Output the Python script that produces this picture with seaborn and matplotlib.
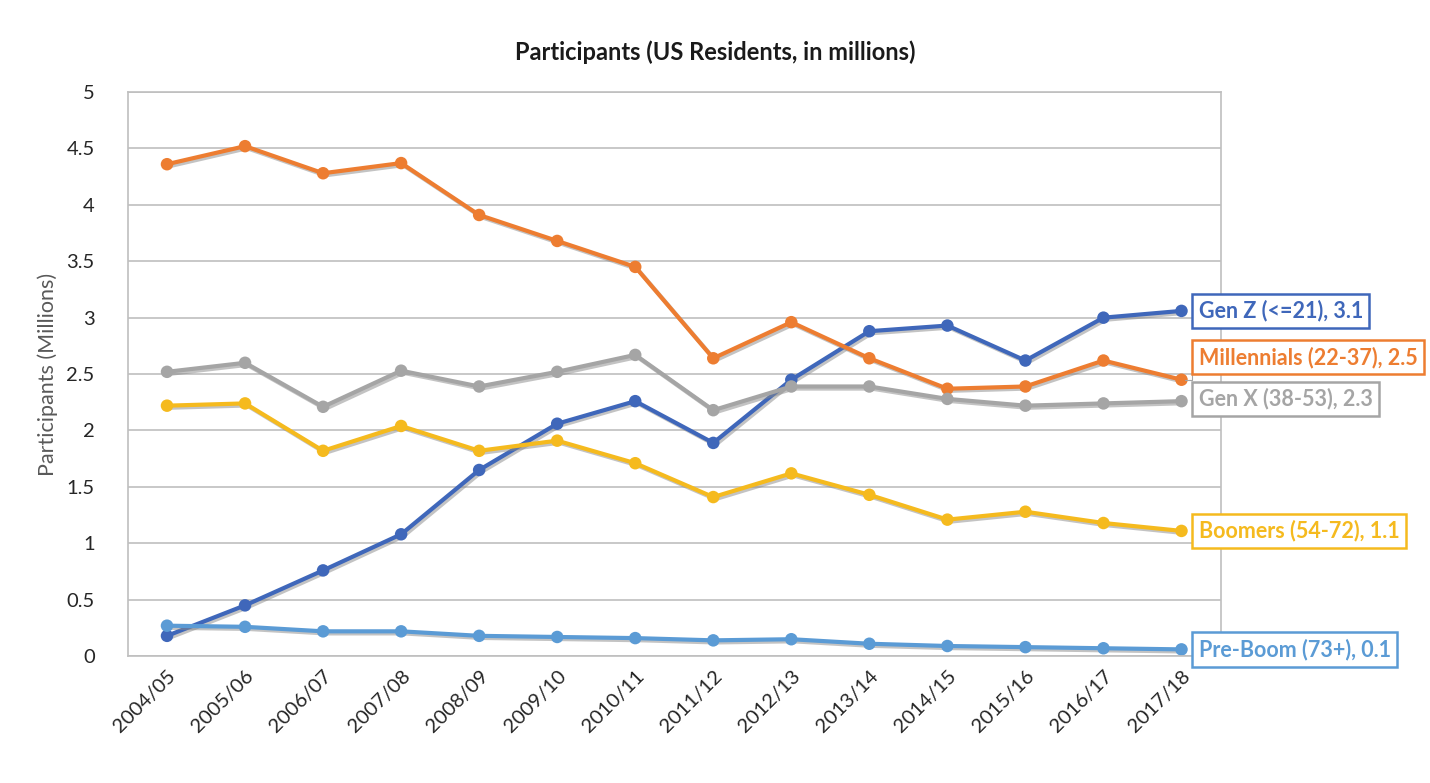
import numpy as np
import pandas as pd
import matplotlib
matplotlib.use("Agg")
import matplotlib.pyplot as plt
import matplotlib.patheffects as pe
import seaborn as sns

seasons = ["2004/05", "2005/06", "2006/07", "2007/08", "2008/09", "2009/10", "2010/11",
           "2011/12", "2012/13", "2013/14", "2014/15", "2015/16", "2016/17", "2017/18"]
gen_z = [0.18, 0.45, 0.76, 1.08, 1.65, 2.06, 2.26, 1.89, 2.45, 2.88, 2.93, 2.62, 3.00, 3.06]
millennials = [4.36, 4.52, 4.28, 4.37, 3.91, 3.68, 3.45, 2.64, 2.96, 2.64, 2.37, 2.39, 2.62, 2.45]
gen_x = [2.52, 2.60, 2.21, 2.53, 2.39, 2.52, 2.67, 2.18, 2.39, 2.39, 2.28, 2.22, 2.24, 2.26]
boomers = [2.22, 2.24, 1.82, 2.04, 1.82, 1.91, 1.71, 1.41, 1.62, 1.43, 1.21, 1.28, 1.18, 1.11]
pre_boom = [0.27, 0.26, 0.22, 0.22, 0.18, 0.17, 0.16, 0.14, 0.15, 0.11, 0.09, 0.08, 0.07, 0.06]

series_names = ["Gen Z (<=21)", "Millennials (22-37)", "Gen X (38-53)", "Boomers (54-72)", "Pre-Boom (73+)"]
series_vals = [gen_z, millennials, gen_x, boomers, pre_boom]
label_texts = ["Gen Z (<=21), 3.1", "Millennials (22-37), 2.5", "Gen X (38-53), 2.3",
               "Boomers (54-72), 1.1", "Pre-Boom (73+), 0.1"]
colors = ["#3F67BA", "#ED7D31", "#A5A5A5", "#F5BA1E", "#5B9BD5"]

rows = []
for name, vals in zip(series_names, series_vals):
    for s, v in zip(seasons, vals):
        rows.append({"Season": s, "Value": v, "Series": name})
df = pd.DataFrame(rows)

sns.set_theme(style="white")
plt.rcParams['font.family'] = ['Lato', 'DejaVu Sans']

fig = plt.figure(figsize=(14.3, 7.83), dpi=100)
ax = fig.add_axes([0.0895, 0.162, 0.764, 0.7205])

palette = dict(zip(series_names, colors))
sns.lineplot(data=df, x="Season", y="Value", hue="Series", palette=palette,
             marker="o", markersize=9, markeredgewidth=0, linewidth=3,
             ax=ax, legend=False, sort=False)

for line in ax.get_lines():
    line.set_path_effects([pe.SimpleLineShadow(offset=(1.5, -1.5), shadow_color="#888888", alpha=0.5),
                           pe.Normal()])

ax.set_xlim(-0.5, len(seasons) - 0.5)
ax.set_ylim(0, 5)
ax.set_yticks(np.arange(0, 5.01, 0.5))
ax.set_yticklabels(["0", "0.5", "1", "1.5", "2", "2.5", "3", "3.5", "4", "4.5", "5"])
ax.yaxis.grid(True, color="#BFBFBF", linewidth=1.2)
ax.set_axisbelow(True)
for sp in ax.spines.values():
    sp.set_color("#BFBFBF")
    sp.set_linewidth(1.2)
ax.tick_params(axis="both", length=0, labelsize=14.5, colors="#262626")
ax.tick_params(axis="y", pad=24)
ax.tick_params(axis="x", pad=8)
ax.set_xticks(range(len(seasons)))
ax.set_xticklabels(seasons, rotation=45, ha="right", rotation_mode="anchor")
ax.set_xlabel("")
ax.set_ylabel("Participants (Millions)", fontsize=15.5, color="#595959", labelpad=6)

fig.suptitle("Participants (US Residents, in millions)", fontsize=17, fontweight="bold",
             color="#1a1a1a", y=0.948)

# end labels
label_y = [3.06, 2.65, 2.28, 1.11, 0.06]
for txt, col, ly, vals in zip(label_texts, colors, label_y, series_vals):
    ax.annotate(txt, xy=(len(seasons) - 1, vals[-1]), xytext=(len(seasons) - 1 + 0.22, ly),
                textcoords="data", annotation_clip=False, va="center", ha="left",
                fontsize=15.5, fontweight="bold", color=col,
                bbox=dict(boxstyle="square,pad=0.3", fc="white", ec=col, lw=1.8),
                arrowprops=None)

# leader line for Millennials
ax.plot([13.05, 13.14, 13.14, 13.22], [2.45, 2.45, 2.62, 2.62], color="#A5A5A5", lw=0.8,
        clip_on=False)

fig.savefig("out.png", dpi=100, facecolor="white")
